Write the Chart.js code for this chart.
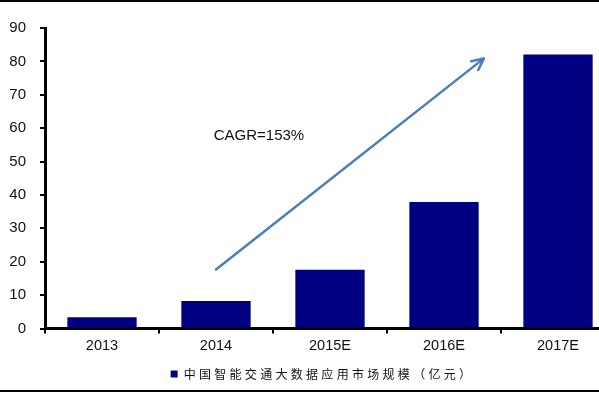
<!DOCTYPE html>
<html>
<head>
<meta charset="utf-8">
<script src="https://cdn.jsdelivr.net/npm/chart.js@4"></script>
<style>
  html, body { margin: 0; padding: 0; background: #fff; }
  body { width: 599px; height: 393px; overflow: hidden; position: relative; }
  #wrap { position: absolute; left: 0; top: 0; width: 633px; height: 393px; }
  .rule { position: absolute; left: 0; width: 599px; background: #000; }
</style>
</head>
<body>
<div id="wrap"><canvas id="chart" width="633" height="393"></canvas></div>
<div class="rule" style="top:0;height:2px"></div>
<div class="rule" style="top:390px;height:2px"></div>
<script>
const categories = ["2013", "2014", "2015E", "2016E", "2017E"];
const marketSize = [3.4, 8.2, 17.6, 37.9, 82.1];
const seriesName = "中国智能交通大数据应用市场规模（亿元）";
const yTicks = [0, 10, 20, 30, 40, 50, 60, 70, 80, 90];
const cagrLabel = "CAGR=153%";
// arrow ends in data units: [category index, value]
const arrowFrom = [1.0, 17.7];
const arrowTo = [3.35, 80.9];
const labelAt = [0.98, 56.5];

// legend text in the source is letter-spaced and sits a bit right of centre
const spacedLegend = {
    id: "spacedLegend",
    beforeInit(chart) {
        const leg = chart.legend;
        if (!leg || leg._spaced) return;
        const fit = leg.fit.bind(leg);
        const draw = leg.draw.bind(leg);
        leg.fit = function () {
            chart.ctx.save();
            chart.ctx.letterSpacing = "3.3px";
            fit();
            chart.ctx.restore();
        };
        leg.draw = function () {
            chart.ctx.save();
            chart.ctx.letterSpacing = "3.3px";
            chart.ctx.translate(15, 0);
            draw();
            chart.ctx.restore();
        };
        leg._spaced = true;
    }
};

const cagrArrow = {
    id: "cagrArrow",
    afterDatasetsDraw(chart) {
        const { ctx, scales: { x, y } } = chart;
        const x0 = x.getPixelForValue(arrowFrom[0]), y0 = y.getPixelForValue(arrowFrom[1]);
        const x1 = x.getPixelForValue(arrowTo[0]), y1 = y.getPixelForValue(arrowTo[1]);
        const ang = Math.atan2(y1 - y0, x1 - x0);
        const head = 13, spread = 0.45;

        ctx.save();
        ctx.strokeStyle = "#4a7ebb";
        ctx.lineWidth = 2.5;
        ctx.lineCap = "round";
        ctx.lineJoin = "round";
        ctx.beginPath();
        ctx.moveTo(x0, y0);
        ctx.lineTo(x1, y1);
        ctx.moveTo(x1 - head * Math.cos(ang - spread), y1 - head * Math.sin(ang - spread));
        ctx.lineTo(x1, y1);
        ctx.lineTo(x1 - head * Math.cos(ang + spread), y1 - head * Math.sin(ang + spread));
        ctx.stroke();

        ctx.fillStyle = "#111";
        ctx.font = "15px 'Liberation Sans', Arial, sans-serif";
        ctx.textAlign = "left";
        ctx.textBaseline = "alphabetic";
        ctx.fillText(cagrLabel, x.getPixelForValue(labelAt[0]), y.getPixelForValue(labelAt[1]));
        ctx.restore();
    }
};

new Chart(document.getElementById("chart"), {
    type: "bar",
    data: {
        labels: categories,
        datasets: [{
            label: seriesName,
            data: marketSize,
            backgroundColor: "#000080",
            borderWidth: 0,
            categoryPercentage: 1,
            barPercentage: 0.608
        }]
    },
    options: {
        responsive: false,
        animation: false,
        events: [],
        layout: { padding: { top: 28, right: 18, bottom: 3, left: 0 } },
        plugins: {
            tooltip: { enabled: false },
            legend: {
                position: "bottom",
                labels: {
                    color: "#111",
                    font: { family: "'Noto Sans CJK SC', sans-serif", size: 12 },
                    boxWidth: 7,
                    boxHeight: 7,
                    padding: 10
                }
            }
        },
        scales: {
            x: {
                afterFit: s => { s.height = 29.5; },
                border: { display: true, color: "#000", width: 3 },
                grid: { drawOnChartArea: false, drawTicks: true, tickLength: 5, color: "#000", lineWidth: 2 },
                ticks: {
                    color: "#111",
                    padding: 4,
                    maxRotation: 0,
                    font: { family: "'Liberation Sans', Arial, sans-serif", size: 14.5 }
                }
            },
            y: {
                min: 0,
                max: 90,
                afterFit: s => { s.width = 45; },
                afterBuildTicks: s => { s.ticks = yTicks.map(v => ({ value: v })); },
                border: { display: true, color: "#000", width: 3 },
                grid: { drawOnChartArea: false, drawTicks: true, tickLength: 5, color: "#000", lineWidth: 2 },
                ticks: {
                    color: "#111",
                    padding: 14,
                    font: { family: "'Liberation Sans', Arial, sans-serif", size: 15 }
                }
            }
        }
    },
    plugins: [spacedLegend, cagrArrow]
});
</script>
</body>
</html>
